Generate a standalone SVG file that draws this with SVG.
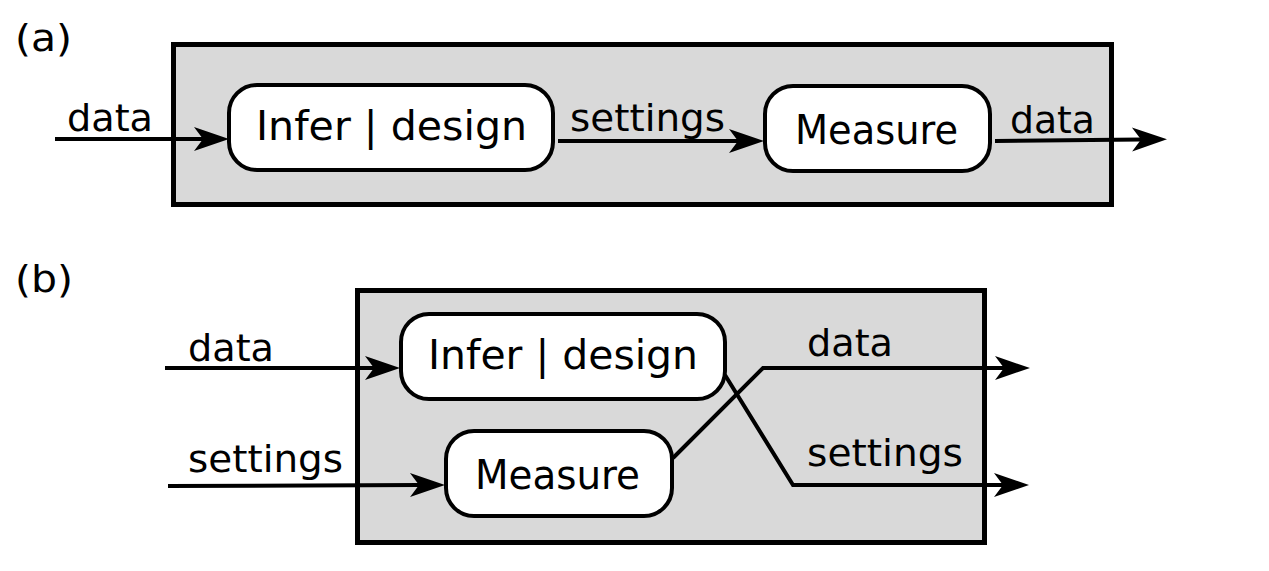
<svg xmlns="http://www.w3.org/2000/svg" width="1269" height="571" viewBox="0 0 1269 571">
<defs>
<style>
.frame{fill:#d9d9d9;stroke:#000;stroke-width:5}
.node{fill:#fff;stroke:#000;stroke-width:4}
.conn{fill:none;stroke:#000;stroke-width:4}
.lbl{font-family:"DejaVu Sans",sans-serif;font-size:38px;fill:#000}
.ntx{font-family:"DejaVu Sans",sans-serif;font-size:41px;fill:#000}
</style>
<marker id="ah" markerUnits="userSpaceOnUse" markerWidth="44" markerHeight="30" viewBox="-12 -15 44 30" refX="0" refY="0" orient="auto">
<path d="M26,0 L-9,-12 L0,0 L-9,12 Z" fill="#000"/>
</marker>
</defs>
<rect width="1269" height="571" fill="#fff"/>
<g id="panel-a">
<text class="lbl" x="15" y="51" textLength="57" lengthAdjust="spacingAndGlyphs">(a)</text>
<rect id="frame-a" class="frame" x="173.5" y="44.5" width="938" height="160"/>
</g>
<g id="panel-b">
<text class="lbl" x="15" y="292" textLength="58" lengthAdjust="spacingAndGlyphs">(b)</text>
<rect id="frame-b" class="frame" x="357.5" y="290.5" width="627" height="252"/>
</g>
<g id="connectors">
<path class="conn" d="M55,139 L203,139" marker-end="url(#ah)"/>
<path class="conn" d="M558,141 L738,141" marker-end="url(#ah)"/>
<path class="conn" d="M995,141 L1141,139.5" marker-end="url(#ah)"/>
<path class="conn" d="M165,368 L374,368" marker-end="url(#ah)"/>
<path class="conn" d="M168,486 L419,485" marker-end="url(#ah)"/>
<path class="conn" d="M673,458 L763,368 L1004,368" marker-end="url(#ah)"/>
<path class="conn" d="M725,375 L793,485 L1003,485" marker-end="url(#ah)"/>
<text class="lbl" x="67" y="131" textLength="86" lengthAdjust="spacingAndGlyphs">data</text>
<text class="lbl" x="570" y="131" textLength="155" lengthAdjust="spacingAndGlyphs">settings</text>
<text class="lbl" x="1010" y="133" textLength="85" lengthAdjust="spacingAndGlyphs">data</text>
<text class="lbl" x="188" y="361" textLength="86" lengthAdjust="spacingAndGlyphs">data</text>
<text class="lbl" x="188" y="472" textLength="155" lengthAdjust="spacingAndGlyphs">settings</text>
<text class="lbl" x="807" y="356" textLength="86" lengthAdjust="spacingAndGlyphs">data</text>
<text class="lbl" x="807" y="466" textLength="156" lengthAdjust="spacingAndGlyphs">settings</text>
</g>
<g id="node-a-infer">
<rect class="node" x="229" y="85" width="324" height="85" rx="28"/>
<text class="ntx" x="256" y="140" textLength="271" lengthAdjust="spacingAndGlyphs">Infer | design</text>
</g>
<g id="node-a-measure">
<rect class="node" x="765" y="86" width="225" height="85" rx="28"/>
<text class="ntx" x="795" y="144" textLength="163" lengthAdjust="spacingAndGlyphs">Measure</text>
</g>
<g id="node-b-infer">
<rect class="node" x="401" y="314" width="324" height="85" rx="28"/>
<text class="ntx" x="428" y="369" textLength="270" lengthAdjust="spacingAndGlyphs">Infer | design</text>
</g>
<g id="node-b-measure">
<rect class="node" x="446" y="431" width="226" height="85" rx="28"/>
<text class="ntx" x="475" y="489" textLength="165" lengthAdjust="spacingAndGlyphs">Measure</text>
</g>
</svg>
